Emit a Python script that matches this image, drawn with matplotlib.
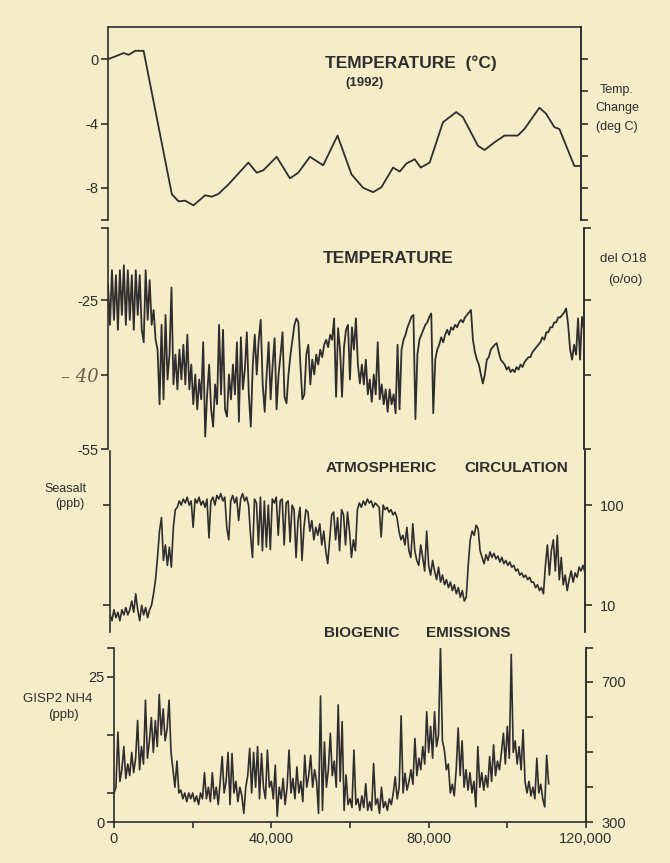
import numpy as np
import matplotlib
matplotlib.use('Agg')
import matplotlib.pyplot as plt

plt.rcParams['font.family'] = ['Liberation Sans', 'DejaVu Sans']

W, H = 670, 863
paper = '#f6ecc8'
ink = '#2e2e2e'

# ---- data (age in years BP) ----
temp_age = [0, 1860, 3970, 5230, 6920, 9030, 16200, 17890, 19580, 21690, 24640,
            26330, 28020, 30550, 35610, 37720, 39400, 42780, 46160, 48270, 51220,
            54590, 58230, 61770, 64720, 67260, 69370, 72320, 74010, 75700, 77810,
            79330, 81600, 84980, 88350, 90040, 93840, 95530, 98060, 100590, 103970,
            105650, 109450, 111140, 113250, 114510, 118310, 120000]
temp_val = [0, 0.17, 0.38, 0.27, 0.52, 0.52, -8.4, -8.84, -8.8, -9.09, -8.46,
            -8.55, -8.38, -7.79, -6.43, -7.06, -6.91, -6.07, -7.41, -7.06, -6.07,
            -6.6, -4.75, -7.16, -8.0, -8.27, -7.96, -6.74, -6.99, -6.49, -6.22,
            -6.74, -6.43, -3.92, -3.29, -3.6, -5.38, -5.65, -5.17, -4.75, -4.75,
            -4.34, -3.02, -3.39, -4.23, -4.34, -6.64, -6.64]

step = 500  # sampling interval of the three records below

o18 = [
    -22, -30, -19, -29, -20, -31, -19, -28, -18, -30,
    -19, -29, -20, -31, -19, -28, -20, -31, -33.5, -19,
    -29, -21, -30, -27, -33, -35, -46, -30, -45, -28,
    -41, -36, -22.5, -42, -36, -43, -35, -41, -34, -42,
    -32, -43, -38, -46, -40, -47, -41, -45, -33.5, -52.5,
    -44, -38, -47, -50.5, -42, -46, -30, -44, -31, -47,
    -48.5, -40, -45, -38, -44, -33.5, -49.5, -32.5, -43, -39,
    -31.5, -44, -50.5, -38, -32, -40, -33, -29, -42, -47.5,
    -40, -33.5, -45, -38, -32.7, -47, -40, -36, -31.5, -44.5,
    -45.8, -40, -36, -33, -30, -28.7, -29.5, -38, -45, -44,
    -36, -34, -42, -37, -40, -36, -38, -35, -36.5, -34,
    -33, -34.5, -32, -33, -28.7, -44.5, -30.7, -35, -44.5, -34.5,
    -31, -30, -41, -30.5, -35, -28.7, -38, -41.8, -38, -42,
    -37, -44, -41, -45.5, -40, -44, -33.5, -45, -42, -46,
    -43, -47.5, -43, -46, -44, -47.8, -34, -47, -35, -33,
    -32, -30.5, -29.5, -28.4, -28, -49, -36, -33, -32, -31,
    -30, -29.5, -28.4, -27.7, -47.8, -37, -35, -34, -32.5, -33.5,
    -32, -31, -32, -30.5, -31, -30, -30.5, -29.5, -29, -29.5,
    -28.5, -28, -27.5, -27, -33, -35.5, -37, -38, -40, -41.8,
    -40, -37, -36.5, -35, -34.5, -34, -33.7, -35.5, -37, -37.5,
    -38, -39, -38.5, -39.5, -39, -39.5, -38.5, -39, -38, -38.5,
    -37.5, -37, -36.5, -36.5, -35.5, -35, -34.5, -34, -33.5, -32.5,
    -33, -31.5, -31.5, -30.5, -30.5, -29.5, -29.5, -28.5, -28.5, -28,
    -27.5, -26.7, -30, -35, -37, -34, -36, -28.7, -37, -28.4,
    -31]

seasalt = [
    8, 7, 9, 7.5, 8.5, 7, 9, 8, 9.5, 8,
    9, 11, 8.5, 13, 9, 7, 10, 8, 9.5, 7.5,
    9, 10, 13, 18, 30, 55, 75, 28, 40, 25,
    38, 24, 60, 90, 95, 110, 100, 115, 105, 120,
    100, 110, 60, 115, 105, 120, 100, 110, 95, 115,
    47, 110, 120, 100, 125, 115, 130, 110, 120, 60,
    45, 110, 125, 105, 120, 70, 115, 130, 110, 120,
    100, 50, 30, 115, 105, 40, 120, 35, 110, 38,
    100, 36, 115, 105, 120, 50, 110, 115, 40, 105,
    110, 43, 100, 90, 30, 70, 95, 28, 60, 90,
    85, 55, 70, 45, 60, 50, 65, 40, 55, 35,
    26, 45, 80, 85, 45, 75, 35, 90, 80, 40,
    85, 55, 30, 45, 35, 90, 105, 95, 110, 100,
    115, 105, 110, 95, 105, 100, 95, 48, 100, 90,
    95, 85, 90, 80, 85, 75, 55, 45, 50, 40,
    60, 35, 30, 65, 35, 28, 25, 40, 30, 22,
    55, 25, 20, 28, 22, 18, 24, 17, 20, 16,
    18, 15, 17, 14, 16, 13, 15, 12, 14, 11,
    12, 25, 45, 55, 50, 63, 58, 35, 30, 26,
    32, 28, 34, 30, 33, 29, 31, 27, 30, 26,
    28, 25, 27, 24, 25, 22, 23, 20, 21, 19,
    20, 18, 19, 17, 17, 15, 16, 14, 15, 13,
    25, 40, 20, 35, 45, 22, 50, 18, 30, 16,
    20, 14, 18, 22, 17, 21, 19, 24, 22, 25,
    21]

nh4 = [
    5, 6, 15.5, 7, 9, 13, 7.5, 10, 8, 12,
    8.5, 11, 17.5, 9, 13, 10, 21, 11, 14, 18,
    12, 17.5, 13, 22, 15, 19.5, 14, 16, 21, 12,
    9, 6, 10.5, 5, 5.5, 4, 5, 3.5, 5, 4,
    5, 3.5, 4.5, 3, 5, 4, 8.5, 4, 6, 3.5,
    8.5, 4, 6, 3, 7, 11.3, 5, 7, 12, 3,
    11.8, 5, 7, 3.5, 6, 4.5, 1.5, 6, 8, 12.7,
    5, 12, 6, 13, 4, 11.8, 6, 4, 12.4, 6,
    7, 4, 9.8, 1, 6, 4, 7.5, 3, 6, 12.4,
    5, 7.5, 4, 9.5, 5, 7, 3.5, 11.5, 6, 8,
    11.5, 6, 9, 7, 1.5, 21.7, 2, 13.8, 6, 9,
    15.3, 8, 10.5, 6, 20.2, 7, 17.3, 2, 8.1, 3,
    4, 2.5, 12.4, 3, 4, 2, 4.5, 2.5, 6.6, 2,
    3.5, 2, 10.1, 3, 4, 1.5, 6, 2.5, 3.5, 2,
    4, 3, 5, 7.8, 4, 6, 18.3, 5, 8.4, 5.5,
    7, 9, 6.5, 14.4, 8, 11, 9, 13, 10, 19,
    12, 16.5, 11, 19, 13, 15, 30.2, 14, 12.4, 9,
    10, 5, 6.5, 4.5, 9, 16.2, 8, 14, 6, 9,
    5.5, 8.5, 5, 7, 2.6, 13, 6, 8.5, 5.5, 8,
    6, 11.3, 7, 13.3, 8, 10.5, 9, 12, 15.3, 10,
    16.5, 11, 28.9, 12, 14, 10, 13, 9, 15.9, 7,
    5, 7, 4.5, 6, 4, 11, 5, 6.5, 4, 2.6,
    11.5, 6.6]

x_ticks = [0, 20000, 40000, 60000, 80000, 100000, 120000]
x_labels = ['0', '', '40,000', '', '80,000', '', '120,000']


def box(left, top, right, bottom):
    # pixel box -> figure fraction
    return [left / W, 1 - bottom / H, (right - left) / W, (bottom - top) / H]


def style(ax, top=False, bottom=False, is_twin=False):
    ax.patch.set_visible(False)
    for s in ax.spines.values():
        s.set_color(ink)
        s.set_linewidth(1.2)
    ax.spines['top'].set_visible(top)
    ax.spines['bottom'].set_visible(bottom)
    ax.tick_params(axis='y', which='both', direction='out', length=5, width=1.2,
                   color=ink, labelsize=10.5, labelcolor=ink, pad=2)
    ax.tick_params(axis='y', which='minor', length=0)
    if is_twin:
        return
    ax.set_xlim(0, 120000)
    if not bottom:
        ax.set_xticks([])


def twin(ax, ylim, ticks, labels, log=False):
    tw = ax.twinx()
    if log:
        tw.set_yscale('log')
    style(tw, is_twin=True)
    tw.spines['left'].set_visible(False)
    tw.set_ylim(*ylim)
    tw.set_yticks(ticks)
    tw.set_yticklabels(labels)
    tw.tick_params(axis='y', which='minor', length=0)
    tw.tick_params(axis='y', pad=6)
    return tw


fig = plt.figure(figsize=(W / 100, H / 100), dpi=100, facecolor=paper)

# ---- panel 1: temperature (1992) ----
ax1 = fig.add_axes(box(108, 27, 581, 220))
style(ax1, top=True)
ax1.plot(temp_age, temp_val, color=ink, lw=1.3)
ax1.set_ylim(-10, 2)
ax1.set_yticks([0, -4, -8, -10])
ax1.set_yticklabels(['0', '-4', '-8', ''])
twin(ax1, (-10, 2), [0, -2, -4, -6, -8, -10], [''] * 6)

# ---- panel 2: del O18 ----
ages = np.arange(len(o18)) * step
ax2 = fig.add_axes(box(108, 228, 584, 449))
style(ax2)
ax2.plot(ages, o18, color=ink, lw=1.3)
ax2.set_ylim(-55, -10.5)
ax2.set_yticks([-10.5, -25, -40, -55])
ax2.set_yticklabels(['', '-25', '\u2013 40', '-55'])
hand = ax2.get_yticklabels()[2]
hand.set_fontstyle('italic')
hand.set_fontsize(13)
hand.set_color('#6a6048')
hand.set_family(['DejaVu Serif'])
twin(ax2, (-55, -10.5), [-10.5, -25, -40, -55], [''] * 4)

# ---- panel 3: seasalt ----
ages = np.arange(len(seasalt)) * step
ax3 = fig.add_axes(box(110, 451, 585, 632))
ax3.set_yscale('log')
style(ax3)
ax3.plot(ages, seasalt, color=ink, lw=1.2)
ax3.set_ylim(5.4, 347)
ax3.set_yticks([10, 100])
ax3.set_yticklabels(['', ''])
twin(ax3, (5.4, 347), [10, 100], ['10', '100'], log=True)

# ---- panel 4: NH4 ----
ages = np.arange(len(nh4)) * step
ax4 = fig.add_axes(box(114, 648, 586, 822))
style(ax4, bottom=True)
ax4.plot(ages, nh4, color=ink, lw=1.2)
ax4.set_ylim(0, 30)
ax4.set_yticks([0, 5, 15, 25, 30])
ax4.set_yticklabels(['0', '', '', '25', ''])
ax4.set_xticks(x_ticks)
ax4.set_xticklabels(x_labels)
ax4.tick_params(axis='x', direction='out', length=4, width=1.2, color=ink,
                labelsize=10.5, labelcolor=ink, pad=3)
twin(ax4, (300, 797), [300, 400, 500, 600, 700, 797],
     ['300', '', '', '', '700', ''])

# ---- titles and axis captions ----
def put(px, py, s, **kw):
    kw.setdefault('ha', 'center')
    kw.setdefault('va', 'center')
    kw.setdefault('color', ink)
    fig.text(px / W, 1 - py / H, s, **kw)

put(411, 63, 'TEMPERATURE  (\u00b0C)', fontsize=12.5, fontweight='bold')
put(365, 83, '(1992)', fontsize=9.5, fontweight='bold')
put(388, 258, 'TEMPERATURE', fontsize=12.5, fontweight='bold')
put(381, 468, 'ATMOSPHERIC', fontsize=11, fontweight='bold')
put(516, 468, 'CIRCULATION', fontsize=11, fontweight='bold')
put(362, 633, 'BIOGENIC', fontsize=11, fontweight='bold')
put(468, 633, 'EMISSIONS', fontsize=11, fontweight='bold')

put(617, 90, 'Temp.', fontsize=9)
put(617, 108, 'Change', fontsize=9)
put(617, 127, '(deg C)', fontsize=9)
put(623, 259, 'del O18', fontsize=9.5)
put(625, 280, '(o/oo)', fontsize=9.5)
put(65, 489, 'Seasalt', fontsize=9)
put(70, 504, '(ppb)', fontsize=9)
put(58, 699, 'GISP2 NH4', fontsize=9.5)
put(63, 715, '(ppb)', fontsize=9.5)

fig.savefig('out.png', dpi=100, facecolor=paper)
